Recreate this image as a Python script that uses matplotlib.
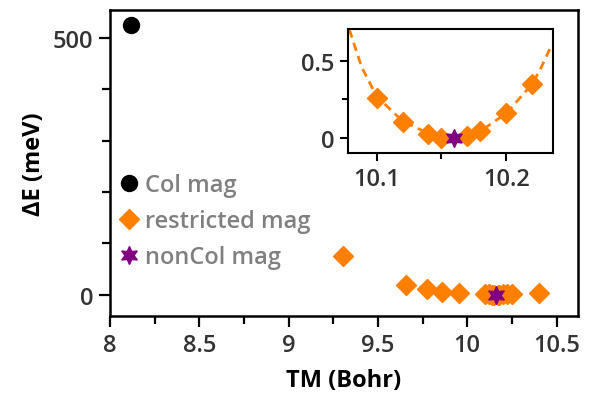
import matplotlib.pyplot as plt
from matplotlib.ticker import MultipleLocator
plt.rcParams["font.family"] = ["Open Sans", "DejaVu Sans"]

# Data
col_x = [8.12]
col_e = [526]

restricted_x = [9.307, 9.657, 9.775, 9.86, 9.953,
                10.10, 10.12, 10.14, 10.15, 10.17, 10.18, 10.20, 10.22, 10.25, 10.404]
restricted_e = [75, 19.5, 11, 5.2, 3.3,
                0.26, 0.105, 0.025, 0.0, 0.015, 0.045, 0.16, 0.35, 0.9, 3.3]

noncol_x = [10.16]
noncol_e = [0.0]

# dashed fit curve in the inset, read point by point
curve_x = [10.079, 10.0834, 10.0885, 10.10, 10.12, 10.14, 10.15, 10.16,
           10.17, 10.18, 10.20, 10.22, 10.227, 10.2335]
curve_e = [0.70, 0.587, 0.458, 0.27, 0.11, 0.03, 0.005, 0.0,
           0.015, 0.045, 0.16, 0.35, 0.458, 0.575]

x_ticks = [8, 8.5, 9, 9.5, 10, 10.5]
x_labels = ['8', '8.5', '9', '9.5', '10', '10.5']

orange = '#ff7f00'
purple = '#800080'
tick_col = '#333333'

fig = plt.figure(figsize=(5.94, 4.06), dpi=100)
ax = fig.add_axes([0.185, 0.219, 0.788, 0.754])

ax.plot(col_x, col_e, 'o', color='black', ms=11.5, label='Col mag')
ax.plot(restricted_x, restricted_e, 'D', color=orange, ms=10, label='restricted mag')
ax.plot(noncol_x, noncol_e, marker=(6, 1, 0), ls='none', color=purple, ms=13,
        label='nonCol mag')

ax.set_xlim(8, 10.62)
ax.set_ylim(-42, 555)
ax.set_xticks(x_ticks)
ax.set_xticklabels(x_labels)
ax.xaxis.set_minor_locator(MultipleLocator(0.25))
ax.set_yticks([0, 500])
ax.yaxis.set_minor_locator(MultipleLocator(100))

for s in ax.spines.values():
    s.set_linewidth(1.8)
ax.tick_params(which='major', length=8, width=1.6, labelsize=17,
               labelcolor=tick_col, pad=4)
ax.tick_params(which='minor', length=5.5, width=1.6)
for lab in ax.get_xticklabels() + ax.get_yticklabels():
    lab.set_fontweight('semibold')

ax.set_xlabel('TM (Bohr)', fontsize=17, fontweight='bold', labelpad=8)
ax.set_ylabel('ΔE (meV)', fontsize=17, fontweight='bold', labelpad=5)

leg = ax.legend(loc='center left', bbox_to_anchor=(0.015, 0.31), frameon=False,
                prop={'size': 17, 'weight': 'semibold'}, handlelength=1,
                handletextpad=0.2, borderpad=0, borderaxespad=0, labelspacing=0.5)
for t in leg.get_texts():
    t.set_color('#808080')

# Inset
ins = fig.add_axes([0.586, 0.621, 0.345, 0.305])
ins.plot(curve_x, curve_e, '--', color=orange, lw=2, dashes=(3, 2), zorder=1)
ins.plot(restricted_x, restricted_e, 'D', color=orange, ms=10, zorder=2)
ins.plot(noncol_x, noncol_e, marker=(6, 1, 0), ls='none', color=purple, ms=13, zorder=3)
ins.set_xlim(10.078, 10.236)
ins.set_ylim(-0.095, 0.704)
ins.set_xticks([10.1, 10.2])
ins.set_xticklabels(['10.1', '10.2'])
ins.xaxis.set_minor_locator(MultipleLocator(0.05))
ins.set_yticks([0, 0.5])
ins.set_yticklabels(['0', '0.5'])
ins.yaxis.set_minor_locator(MultipleLocator(0.25))
for s in ins.spines.values():
    s.set_linewidth(1.5)
ins.tick_params(which='major', length=6, width=1.5, labelsize=17,
                labelcolor=tick_col, pad=4)
ins.tick_params(which='minor', length=4, width=1.5)
for lab in ins.get_xticklabels() + ins.get_yticklabels():
    lab.set_fontweight('semibold')

fig.savefig('out.png', dpi=100)
